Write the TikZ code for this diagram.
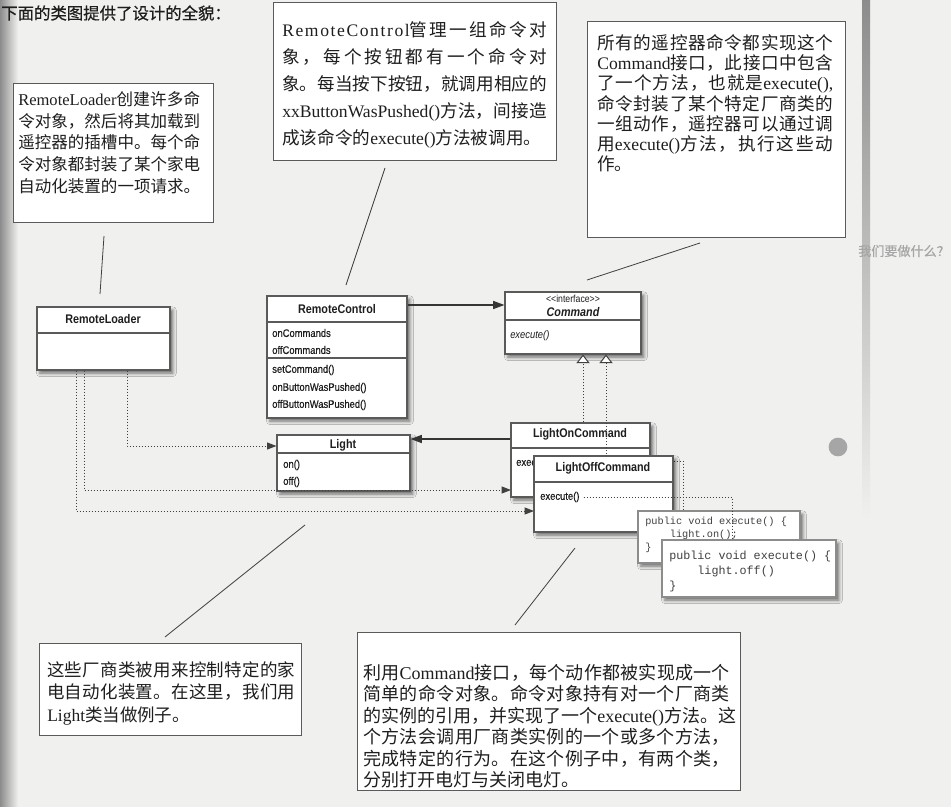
\documentclass[tikz,border=0pt]{standalone}
\usepackage{fontspec}
\setmainfont{Liberation Serif}
\newfontfamily\cjk{Noto Sans CJK SC}
\newfontfamily\cjkbold[FakeBold=0.6]{Noto Sans CJK SC}
\newfontfamily\wideserif[LetterSpace=9]{Liberation Serif}
\newfontfamily\umlf[FakeStretch=0.86]{Liberation Sans}
\newfontfamily\umlm[FakeStretch=0.86,FakeBold=0.5]{Liberation Sans}
\newfontfamily\codef{Liberation Mono}
\usetikzlibrary{arrows.meta,fit,shadows.blur}
% stretchable glue between CJK characters, used to justify single lines
\XeTeXinterchartokenstate=1
\newXeTeXintercharclass\cjkcls
\makeatletter
\def\cjkrange#1#2{\count@=#1\relax
  \loop\XeTeXcharclass\count@=\cjkcls\relax
  \ifnum\count@<#2\relax\advance\count@ by 1\relax\repeat}
\makeatother
\cjkrange{"4E00}{"9FFF}
\cjkrange{"3000}{"303F}
\cjkrange{"FF00}{"FFEF}
\XeTeXinterchartoks\cjkcls\cjkcls={\hskip 0pt plus 4pt\relax}
\newcommand\Z[1]{{\cjk #1}}
\newcommand\J[1]{\makebox[\linewidth][s]{#1}}
\definecolor{paper}{HTML}{F0F0EE}
\definecolor{ink}{HTML}{1E1E1E}
\definecolor{rule}{HTML}{5A5A5A}
\tikzset{
  callout/.style={draw=rule, line width=0.7pt, fill=white, inner sep=0pt},
  note/.style={anchor=north west, inner sep=0pt, text=ink},
  cls/.style={draw=rule, line width=0.8pt, fill=white, inner sep=0pt,
    blur shadow={shadow xshift=2.2pt, shadow yshift=-2.4pt, shadow blur radius=2.5pt, shadow opacity=55}},
  codebox/.style={cls, draw=black!45},
  sep/.style={draw=rule, line width=0.8pt},
  ttl/.style={font=\umlf\bfseries\fontsize{9.4pt}{11pt}\selectfont, inner sep=0pt, text=ink},
  mem/.style={font=\umlm\fontsize{8.2pt}{10pt}\selectfont, inner sep=0pt, anchor=west, text=ink},
  code/.style={inner sep=0pt, anchor=north west, align=left, text=black!75},
  dots/.style={draw=ink!85, line width=0.75pt, dash pattern=on 0.75pt off 1.5pt},
  dep/.style={dots, -{Triangle[length=7pt,width=5.2pt]}},
  impl/.style={dots, -{Triangle[open,length=6.5pt,width=10pt,fill=white]}},
  assoc/.style={draw=ink!90, line width=1.1pt, -{Triangle[length=8.5pt,width=6pt]}},
  lead/.style={draw=ink!85, line width=0.6pt},
}
\begin{document}
\begin{tikzpicture}[x=0.75pt,y=-0.75pt]
\useasboundingbox (0,0) rectangle (951,807);
\fill[paper] (0,0) rectangle (951,807);
\shade[left color=black!45, right color=paper] (0,0) rectangle (18,807);
\shade[top color=black!45, bottom color=paper] (862,0) rectangle (870,520);

% heading
\node[anchor=west, inner sep=0pt, font=\cjkbold\fontsize{12.3pt}{14pt}\selectfont, text=ink] (head) at (1,13) {下面的类图提供了设计的全貌：};

% notes
\node[callout, fit={(13,83)(213,222)}] (c1) {};
\node[note, text width=136.5pt, font=\fontsize{12.4pt}{16.3pt}\selectfont] (c1t) at (18,91)
  {\J{RemoteLoader\Z{创建许多命}}\\
   \J{\Z{令对象，然后将其加载到}}\\
   \J{\Z{遥控器的插槽中。每个命}}\\
   \J{\Z{令对象都封装了某个家电}}\\
   \J{\Z{自动化装置的一项请求。}}};

\node[callout, fit={(273,2)(556,160)}] (c2) {};
\node[note, text width=198.75pt, font=\fontsize{13.2pt}{20.3pt}\selectfont] (c2t) at (282,21)
  {\J{{\wideserif RemoteControl}\Z{管理一组命令对}}\\
   \J{\Z{象，每个按钮都有一个命令对}}\\
   \J{\Z{象。每当按下按钮，就调用相应的}}\\
   \J{xxButtonWasPushed()\Z{方法，间接造}}\\
   \Z{成该命令的}execute()\Z{方法被调用。}};

\node[callout, fit={(587,21)(845,237)}] (c3) {};
\node[note, text width=177pt, font=\fontsize{13.2pt}{15.2pt}\selectfont] (c3t) at (597,34)
  {\J{\Z{所有的遥控器命令都实现这个}}\\
   \J{Command\Z{接口，此接口中包含}}\\
   \J{\Z{了一个方法，也就是}execute(),}\\
   \J{\Z{命令封装了某个特定厂商类的}}\\
   \J{\Z{一组动作，遥控器可以通过调}}\\
   \J{\Z{用}execute()\Z{方法，执行这些动}}\\
   \Z{作。}};

\node[callout, fit={(39,643)(301,735)}] (c4) {};
\node[note, text width=186pt, font=\fontsize{13.1pt}{16.9pt}\selectfont] (c4t) at (47,661)
  {\J{\Z{这些厂商类被用来控制特定的家}}\\
   \J{\Z{电自动化装置。在这里，我们用}}\\
   Light\Z{类当做例子。}};

\node[callout, fit={(357,632)(740,790)}] (c5) {};
\node[note, text width=275pt, font=\fontsize{13.5pt}{16.1pt}\selectfont] (c5t) at (363,664)
  {\J{\Z{利用}Command\Z{接口，每个动作都被实现成一个}}\\
   \J{\Z{简单的命令对象。命令对象持有对一个厂商类}}\\
   \J{\Z{的实例的引用，并实现了一个}execute()\Z{方法。这}}\\
   \J{\Z{个方法会调用厂商类实例的一个或多个方法，}}\\
   \J{\Z{完成特定的行为。在这个例子中，有两个类，}}\\
   \Z{分别打开电灯与关闭电灯。}};

% faint heading and bullet of the page underneath
\node[anchor=west, inner sep=0pt, font=\cjkbold\fontsize{9.8pt}{12pt}\selectfont, text=black!35] (bg1) at (858,251) {我们要做什么？};
\node[circle, fill=black!35, minimum size=14pt, inner sep=0pt] (bg2) at (838,447) {};

% RemoteLoader
\node[cls, fit={(37,307)(170,370)}] (rl) {};
\draw[sep] (rl.west |- 0,333) -- (rl.east |- 0,333);
\node[ttl] (rlT) at (103,319) {RemoteLoader};

% RemoteControl
\node[cls, fit={(267,296)(407,418)}] (rc) {};
\draw[sep] (rc.west |- 0,322) -- (rc.east |- 0,322);
\draw[sep] (rc.west |- 0,358) -- (rc.east |- 0,358);
\node[ttl] (rcT) at (337,309) {RemoteControl};
\node[mem] (rc1) at (272,333) {onCommands};
\node[mem] (rc2) at (272,350) {offCommands};
\node[mem] (rc3) at (272,370) {setCommand()};
\node[mem] (rc4) at (272,388) {onButtonWasPushed()};
\node[mem] (rc5) at (272,405) {offButtonWasPushed()};

% Command interface
\node[cls, fit={(505,292)(641,354)}] (cmd) {};
\draw[sep] (cmd.west |- 0,320) -- (cmd.east |- 0,320);
\node[inner sep=0pt, font=\umlf\fontsize{7.6pt}{9pt}\selectfont, text=ink] (cmdS) at (573,299) {\textless\textless interface\textgreater\textgreater};
\node[ttl, font=\umlf\bfseries\itshape\fontsize{9.4pt}{11pt}\selectfont] (cmdT) at (573,312) {Command};
\node[mem, font=\umlf\itshape\fontsize{8.2pt}{10pt}\selectfont] (cmdM) at (510,336) {execute()};

% Light
\node[cls, fit={(277,435)(410,491)}] (light) {};
\draw[sep] (light.west |- 0,453) -- (light.east |- 0,453);
\node[ttl] (lightT) at (343,445) {Light};
\node[mem] (light1) at (283,465) {on()};
\node[mem] (light2) at (283,482) {off()};

% dependencies of RemoteLoader
\draw[dep] (rl.south -| 127,0) |- (light.west |- 0,446);
\draw[dep] (rl.south -| 84,0) |- (511,490) coordinate (lonIn);
\draw[dep] (rl.south -| 76,0) |- (534,511) coordinate (loffIn);

% association from RemoteControl to Command
\draw[assoc] (rc.east |- 0,305) -- (cmd.west |- 0,305);

% LightOnCommand
\node[cls, fit={(511,423)(650,497)}] (lon) {};
\draw[sep] (lon.west |- 0,448) -- (lon.east |- 0,448);
\node[ttl] (lonT) at (580,434) {LightOnCommand};
\node[mem] (lonM) at (516,463) {execute()};
\draw[dots] (lonM.east) ++(4,-2) -| (683,511) coordinate (onCode);

\draw[impl] (lon.north -| 583,0) -- (cmd.south -| 583,0);
\draw[assoc] (lon.west |- 0,439) -- (light.east |- 0,439);
\draw[impl] (loffIn -| 606,456) -- (cmd.south -| 606,0);

% LightOffCommand
\node[cls, fit={(534,456)(673,532)}] (loff) {};
\draw[sep] (loff.west |- 0,482) -- (loff.east |- 0,482);
\node[ttl] (loffT) at (603,468) {LightOffCommand};
\node[mem] (loffM) at (540,497) {execute()};

% code snippets
\node[codebox, fit={(638,511)(800,563)}] (code1) {};
\node[code, font=\codef\fontsize{7.7pt}{9.8pt}\selectfont] (code1t) at (645,517)
  {public void execute() \{\\\hspace*{2.4em}light.on();\\\}};
\draw[dots] (loffM.east) ++(4,0) -| (732,540) coordinate (offCode);
\node[codebox, fit={(662,540)(836,597)}] (code2) {};
\node[code, font=\codef\fontsize{8.8pt}{11pt}\selectfont] (code2t) at (669,551)
  {public void execute() \{\\\hspace*{2.4em}light.off()\\\}};

% leader lines
\coordinate (l1a) at (104,236); \coordinate (l1b) at (100,294);
\draw[lead] (l1a) -- (l1b);
\coordinate (l2a) at (385,168); \coordinate (l2b) at (346,285);
\draw[lead] (l2a) -- (l2b);
\coordinate (l3a) at (700,243); \coordinate (l3b) at (587,280);
\draw[lead] (l3a) -- (l3b);
\coordinate (l4a) at (305,525); \coordinate (l4b) at (165,637);
\draw[lead] (l4a) -- (l4b);
\coordinate (l5a) at (575,548); \coordinate (l5b) at (515,625);
\draw[lead] (l5a) -- (l5b);
\end{tikzpicture}
\end{document}
